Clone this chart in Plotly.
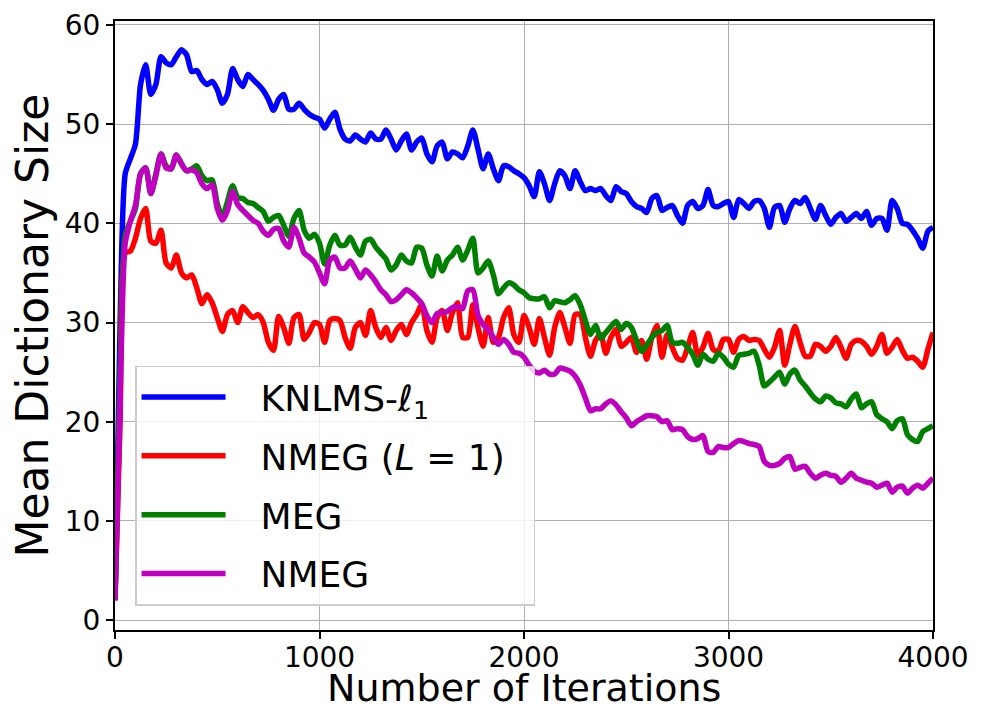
import plotly.graph_objects as go

STEP = 25

knlms = [
    2, 30, 45, 46.5, 48, 54, 56, 53, 54, 56.8,
    56.2, 56, 56.8, 57.5, 57, 55.3, 55.4, 54.5, 54, 54.3,
    53.5, 52.1, 53, 55.6, 54.5, 53.8, 55, 54.5, 54, 53.4,
    52.5, 51.4, 52.5, 53, 51.5, 51.5, 52.1, 51.5, 51, 50.7,
    50.5, 49.6, 50.5, 51.2, 49.5, 48.5, 48.3, 48.9, 48.5, 48.2,
    49.1, 48.5, 48.5, 49.4, 48.5, 47.4, 48.3, 49, 47.4, 48.2,
    48.6, 47, 46.2, 47.8, 48.2, 46.5, 47.2, 47, 46.6, 47.8,
    49.4, 47.5, 45.5, 47, 45.5, 44.3, 45.8, 45.7, 45.3, 45,
    44.6, 43.8, 42.7, 45.2, 44, 42.3, 44, 45.3, 44.8, 43.5,
    45.3, 44.2, 43.3, 43.5, 43.3, 43.5, 42.8, 42.3, 43.7, 43.2,
    43, 42.2, 41.7, 41.5, 41.1, 42.5, 42.8, 41.3, 41.6, 41.8,
    40.8, 40, 41.8, 42.2, 41.5, 41.8, 43.4, 41.8, 41.7, 42,
    42.2, 40.6, 42.4, 42, 41.5, 42.2, 42.3, 41.5, 39.6, 41.6,
    41.8, 40.1, 41.5, 42.3, 42, 42.6, 41.5, 40.4, 41.8, 40.8,
    39.9, 40.6, 41, 40.2, 40.6, 41, 40.5, 41.2, 39.8, 40.5,
    40.5, 39.3, 42.3, 41.5, 40, 39.9, 39.3, 38.5, 37.5, 39.2,
    39.6,
]

nmeg_l1 = [
    2, 20, 37, 37.2, 38.5, 40.5, 41.5, 38.2, 38, 39.3,
    36, 35.5, 36.8, 35, 34.5, 34.8, 33.5, 31.9, 32.8, 32,
    30.5, 29.1, 30.8, 31.2, 30, 31.6, 31, 30.5, 30.8, 30,
    28, 27.2, 30.6, 29.5, 27.9, 30.5, 30.8, 28.3, 29, 30,
    29.8, 28, 30.2, 30.4, 30.2, 28.5, 27.4, 29.5, 30, 28.7,
    31.2, 29.5, 28.5, 29.5, 28.2, 29.2, 29.8, 28.8, 30, 30.8,
    31.8, 29.2, 28, 30.5, 31.2, 29.2, 31, 32, 28.5, 28.5,
    31.8, 29.5, 27.6, 30.5, 28, 28.5, 30.5, 31.5, 28.8, 28,
    30.7, 29.5, 27.8, 30.4, 28.5, 26.7, 29.5, 31, 29.5, 27.9,
    30.8, 30.8, 28.5, 26.6, 28.2, 28.8, 26.9, 28.5, 29.3, 27.6,
    28, 28.5, 27, 28.2, 26.3, 28.5, 29.7, 26.5, 28.8, 27.5,
    26.4, 26.2, 27.5, 29, 26.7, 27.5, 28.9, 27.3, 27.1, 28.3,
    28.3, 27, 28.3, 28.6, 28.2, 28.3, 28.2, 27.3, 26.5, 27.5,
    29.2, 25.7, 27.8, 29.6, 28, 26.6, 26.6, 27.8, 27.6, 27.1,
    27.6, 28.5, 27.5, 26.4, 27.8, 28.2, 28.1, 27.6, 26.8, 27.6,
    28.8, 26.9, 27.5, 28.3, 27.2, 26.4, 26.5, 26.1, 25.5, 27.3,
    29,
]

meg = [
    2, 25, 38.8, 40.2, 41.5, 45, 45.6, 43, 45, 47,
    45.8, 45.5, 46.9, 46, 45.3, 45.5, 45.8, 44.8, 44.3, 44.4,
    42, 40.7, 42.2, 43.8, 42.6, 42.5, 42.1, 42, 41.6, 41.2,
    40.2, 40.6, 40.8, 39.8, 38.7, 40.5, 41.3, 39.3, 38.5, 38.9,
    38, 35.9, 37.8, 38.8, 37.8, 37.8, 38.6, 37.6, 36.8, 38.2,
    38.4, 37.6, 37, 36.4, 35.3, 35.8, 36.8, 36.2, 36, 37.6,
    37.5, 35.8, 34.7, 36.7, 35.2, 36.3, 36.8, 37.6, 36.3, 37.3,
    38.5, 35, 35.5, 36.2, 34.8, 32.9, 33.5, 34, 33.8, 33.3,
    33, 32.5, 32.4, 32.4, 32.6, 31.5, 32.2, 32.1, 32, 32.3,
    32.7, 31.8, 30.2, 28.8, 29.7, 28.4, 29, 29.6, 30.1, 29.3,
    29.9, 29.5, 28.2, 27.1, 27.7, 28.5, 29, 29.2, 29.7, 28,
    27.9, 28, 27.5, 26.8, 25.7, 26.8, 26.3, 26.1, 26.9, 26.5,
    25.8, 25.5, 26.7, 26.8, 26.9, 27.1, 25.7, 23.6, 24, 24.5,
    25, 23.8, 24.8, 25.2, 24.2, 23.6, 22.9, 22.3, 22, 22.6,
    22.4, 21.9, 21.8, 21.5, 22.3, 22.8, 21.4, 21.8, 22, 20.7,
    20.3, 20, 19.3, 20.1, 20.3, 18.7, 18.2, 18, 19, 19.3,
    19.6,
]

nmeg = [
    2, 22, 38, 40.2, 41.8, 45, 45.6, 43, 44.8, 47,
    45.6, 45.5, 46.9, 46, 45.3, 45.4, 45.1, 44, 43.5, 43.9,
    41.5, 40.3, 41.3, 43.2, 41.9, 41.3, 40.8, 40.3, 40, 39.2,
    38.8, 39.4, 39.5, 38.2, 37.6, 39.6, 38.5, 37, 36.6, 36.1,
    35, 33.9, 36.3, 36.6, 35.5, 35.5, 36.2, 35.4, 34.5, 35.3,
    34.8, 34.1, 33.3, 32.8, 32.1, 32.3, 32.8, 33.3, 33, 32.5,
    31.9, 30.7, 30, 30.9, 31, 31.1, 31.5, 31.6, 31.4, 33.2,
    33.3, 30.7, 29.8, 29.3, 28.5, 27.8, 28.3, 27.8, 27, 26.9,
    26.5, 25.7, 25.1, 24.9, 25.2, 24.8, 24.8, 25.4, 25.3, 25.1,
    24.6, 23.7, 22.4, 21.1, 21.3, 21.3, 21.8, 22.1, 21.7, 21,
    20.4, 19.6, 20, 20.3, 20.6, 20.6, 20.5, 20, 20.1, 19.2,
    19.3, 19.2, 18.5, 18.2, 18.3, 18.6, 17, 16.9, 17.5, 17.4,
    17.4, 17.8, 18.1, 18, 17.8, 17.7, 17.5, 16, 15.6, 15.6,
    15.8, 16.3, 16.5, 15.2, 15.4, 15.5, 14.8, 14.3, 14.6, 14.8,
    14.6, 14.5, 13.9, 14.3, 14.8, 14.3, 14.1, 13.9, 13.8, 13.4,
    13.6, 13.8, 12.9, 13.4, 13.5, 12.8, 13.3, 13.6, 13.3, 13.8,
    14.3,
]

names = ["KNLMS-ℓ<sub>1</sub>", "NMEG (<i>L</i> = 1)", "MEG", "NMEG"]
colors = ["#0000ff", "#ff0000", "#008000", "#bf00bf"]
series = [knlms, nmeg_l1, meg, nmeg]
x_ticks = [0, 1000, 2000, 3000, 4000]
y_ticks = [0, 10, 20, 30, 40, 50, 60]
x_title = "Number of Iterations"
y_title = "Mean Dictionary Size"

FONT = "DejaVu Sans"
PAD = "\u00a0\u00a0\u2009"

fig = go.Figure()
for name, col, ys in zip(names, colors, series):
    xs = [i * STEP for i in range(len(ys))]
    label = PAD + name + ("\u00a0\u00a0" if "L" in name else "")
    fig.add_trace(go.Scatter(x=xs, y=ys, mode="lines", name=label,
                             legendgroup=name,
                             line=dict(color=col, width=5.5, shape="spline",
                                       smoothing=0.7)))

axis_common = dict(
    showline=True, linecolor="black", linewidth=2, mirror=True,
    ticks="outside", ticklen=7, tickwidth=2, tickcolor="black",
    showgrid=True, gridcolor="#b0b0b0", gridwidth=1.2,
    zeroline=False, automargin=False,
    tickfont=dict(family=FONT, size=28, color="black"),
)

# the page body adds an 8 px offset, so the figure is 8 px smaller and margins shifted
fig.update_layout(
    width=977, height=707,
    margin=dict(l=107, r=52, t=13, b=85),
    paper_bgcolor="white", plot_bgcolor="white",
    font=dict(family=FONT, color="black"),
    xaxis=dict(range=[0, 4000], tickvals=x_ticks, ticklabelstandoff=-6,
               **axis_common),
    yaxis=dict(range=[-1.0, 60.4], tickvals=y_ticks, **axis_common),
    legend=dict(x=0.0245, y=0.04, xanchor="left", yanchor="bottom",
                bgcolor="rgba(255,255,255,0.8)", bordercolor="#cccccc",
                borderwidth=1.5, font=dict(family=FONT, size=36, color="black"),
                itemwidth=84, tracegroupgap=9),
    showlegend=True,
    annotations=[
        dict(text=x_title, xref="paper", yref="paper", x=0.5, y=0,
             xanchor="center", yanchor="top", yshift=-34, showarrow=False,
             font=dict(family=FONT, size=38, color="black")),
        dict(text=y_title, xref="paper", yref="paper", x=0, y=0.5,
             xanchor="center", yanchor="middle", xshift=-83, textangle=-90,
             showarrow=False,
             font=dict(family=FONT, size=44, color="black")),
    ],
)

fig.write_html("out.html")
